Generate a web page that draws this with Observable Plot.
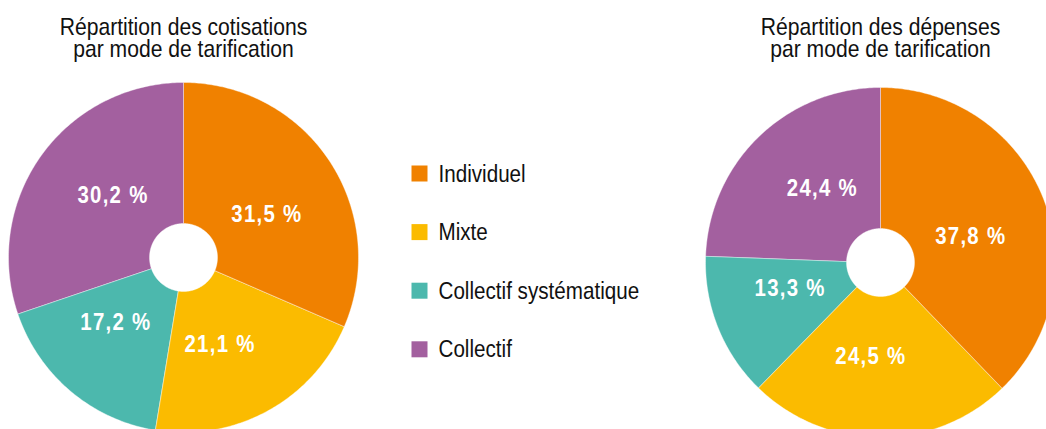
<!DOCTYPE html>
<html>
<head>
<meta charset="utf-8">
<script src="https://cdn.jsdelivr.net/npm/d3@7"></script>
<script src="https://cdn.jsdelivr.net/npm/@observablehq/plot@0.6"></script>
<style>
  html, body { margin: 0; padding: 0; background: #fff; overflow: hidden; }
  #chart svg { display: block; }
</style>
</head>
<body>
<div id="chart"></div>
<script>
// ---- data ----
const categories = ["Individuel", "Mixte", "Collectif systématique", "Collectif"];
const cotisations = [31.5, 21.1, 17.2, 30.2];
const depenses = [37.8, 24.5, 13.3, 24.4];
const titles = ["Répartition des cotisations\npar mode de tarification",
                "Répartition des dépenses\npar mode de tarification"];
const colors = ["#f08100", "#fbbb00", "#4cb8ad", "#a3609f"];

// ---- layout ----
const W = 1046, H = 429;
const FONT = "'Liberation Sans', Arial, sans-serif";
const pies = [
  {values: cotisations, cx: 183, cy: 257, title: titles[0]},
  {values: depenses, cx: 880, cy: 262, title: titles[1]}
];
const R = 175, r0 = 34, rLabel = 94, labelShift = 0.1;

const slicePts = [];
const labels = [];
pies.forEach((p, pi) => {
  const arcs = d3.pie().sort(null).value(d => d)(p.values);
  arcs.forEach((a, i) => {
    const id = pi + "-" + i;
    const n = Math.max(8, Math.ceil((a.endAngle - a.startAngle) * 80));
    const ring = [];
    for (let k = 0; k <= n; k++) {
      const t = a.startAngle + (a.endAngle - a.startAngle) * k / n;
      ring.push([R, t]);
    }
    for (let k = n; k >= 0; k--) {
      const t = a.startAngle + (a.endAngle - a.startAngle) * k / n;
      ring.push([r0, t]);
    }
    ring.forEach(([rr, t]) => slicePts.push({
      id, cat: categories[i],
      x: p.cx + rr * Math.sin(t),
      y: p.cy - rr * Math.cos(t)
    }));
    const m = (a.startAngle + a.endAngle) / 2 + labelShift;
    labels.push({
      x: p.cx + rLabel * Math.sin(m),
      y: p.cy - rLabel * Math.cos(m),
      text: a.value.toFixed(1).replace(".", ",") + " %"
    });
  });
});

const legend = categories.map((c, i) => ({cat: c, x: 419, y: 173 + i * 58.6}));

const chart = Plot.plot({
  width: W, height: H,
  margin: 0,
  x: {domain: [0, W], range: [0, W], axis: null},
  y: {domain: [0, H], range: [0, H], axis: null},
  color: {domain: categories, range: colors},
  style: {fontFamily: FONT, background: "#fff"},
  marks: [
    Plot.line(slicePts, {x: "x", y: "y", z: "id", fill: "cat", stroke: "white", strokeWidth: 0.4, curve: "linear-closed"}),
    Plot.text(labels, {x: "x", y: "y", text: "text", fill: "white", fontSize: 24, fontWeight: "bold", fontFamily: FONT}),
    Plot.text(pies, {x: "cx", y: () => 38, text: "title", fill: "#111", fontSize: 24, lineHeight: 0.92, fontFamily: FONT}),
    Plot.dot(legend, {x: "x", y: "y", symbol: "square", r: 9.03, fill: "cat", stroke: null}),
    Plot.text(legend, {x: d => d.x + 19, y: d => d.y + 0.5, text: "cat", textAnchor: "start", fill: "#111", fontSize: 24, fontFamily: FONT})
  ]
});

// narrow the glyphs horizontally to mimic the condensed typeface of the reference
const textGroups = chart.querySelectorAll('g[aria-label="text"]');
const squeeze = [[0.85, 1.5], [0.88, 0], [0.86, 0]];
textGroups.forEach((g, gi) => {
  const [s, ls] = squeeze[gi] || [1, 0];
  if (ls) g.setAttribute("letter-spacing", ls);
  g.querySelectorAll("text").forEach(t => {
    const tr = t.getAttribute("transform");
    if (tr) {
      t.setAttribute("transform", tr + ` scale(${s},1)`);
    } else {
      const x = +t.getAttribute("x") || 0, y = +t.getAttribute("y") || 0;
      t.removeAttribute("x"); t.removeAttribute("y");
      t.setAttribute("transform", `translate(${x},${y}) scale(${s},1)`);
    }
  });
});
document.getElementById("chart").appendChild(chart);
</script>
</body>
</html>
